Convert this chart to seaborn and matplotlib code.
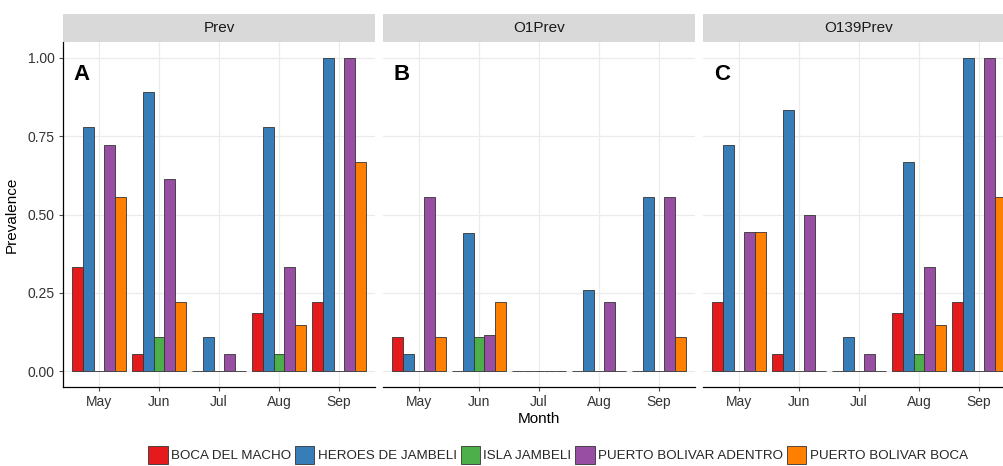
import numpy as np
import pandas as pd
import matplotlib
matplotlib.use("Agg")
import matplotlib.pyplot as plt
import seaborn as sns
from matplotlib.patches import Patch

# ---------------- data ----------------
months = ["May", "Jun", "Jul", "Aug", "Sep"]
sites = ["BOCA DEL MACHO", "HEROES DE JAMBELI", "ISLA JAMBELI",
         "PUERTO BOLIVAR ADENTRO", "PUERTO BOLIVAR BOCA"]
panels = ["Prev", "O1Prev", "O139Prev"]
panel_letters = ["A", "B", "C"]
colors = ["#E41A1C", "#377EB8", "#4DAF4A", "#984EA3", "#FF7F00"]

# values per site, ordered by month (May..Sep)
prev = {
    "BOCA DEL MACHO":         [0.333, 0.056, 0.0,   0.186, 0.222],
    "HEROES DE JAMBELI":      [0.778, 0.889, 0.111, 0.778, 1.0],
    "ISLA JAMBELI":           [0.0,   0.111, 0.0,   0.056, 0.0],
    "PUERTO BOLIVAR ADENTRO": [0.722, 0.614, 0.056, 0.333, 1.0],
    "PUERTO BOLIVAR BOCA":    [0.556, 0.222, 0.0,   0.148, 0.667],
}
o1prev = {
    "BOCA DEL MACHO":         [0.111, 0.0,   0.0, 0.0,   0.0],
    "HEROES DE JAMBELI":      [0.056, 0.441, 0.0, 0.260, 0.556],
    "ISLA JAMBELI":           [0.0,   0.111, 0.0, 0.0,   0.0],
    "PUERTO BOLIVAR ADENTRO": [0.556, 0.116, 0.0, 0.222, 0.556],
    "PUERTO BOLIVAR BOCA":    [0.111, 0.222, 0.0, 0.0,   0.111],
}
o139prev = {
    "BOCA DEL MACHO":         [0.222, 0.056, 0.0,   0.186, 0.222],
    "HEROES DE JAMBELI":      [0.722, 0.833, 0.111, 0.667, 1.0],
    "ISLA JAMBELI":           [0.0,   0.0,   0.0,   0.056, 0.0],
    "PUERTO BOLIVAR ADENTRO": [0.444, 0.5,   0.056, 0.333, 1.0],
    "PUERTO BOLIVAR BOCA":    [0.444, 0.0,   0.0,   0.148, 0.556],
}
panel_data = [prev, o1prev, o139prev]

rows = []
for pname, pdata in zip(panels, panel_data):
    for s in sites:
        for m, v in zip(months, pdata[s]):
            rows.append({"panel": pname, "Site": s, "Month": m, "Prevalence": v})
df = pd.DataFrame(rows)

# ---------------- figure ----------------
sns.set_style("white")
plt.rcParams["font.family"] = ["Liberation Sans", "DejaVu Sans"]

W, H = 1004, 466
fig = plt.figure(figsize=(W / 100, H / 100), dpi=100)

panel_left = [63, 383, 703]
panel_w = 312
panel_top, panel_bot = 42, 387
strip_top = 14

def fx(x): return x / W
def fy(y): return 1 - y / H

txt_col = "#333333"
for i, (pname, letter) in enumerate(zip(panels, panel_letters)):
    x0 = panel_left[i]
    ax = fig.add_axes([fx(x0), fy(panel_bot), panel_w / W, (panel_bot - panel_top) / H])
    sub = df[df["panel"] == pname]
    sns.barplot(data=sub, x="Month", y="Prevalence", hue="Site",
                order=months, hue_order=sites, palette=colors,
                width=0.9, saturation=1, edgecolor="#333333", linewidth=0.6,
                legend=False, ax=ax, errorbar=None)
    ax.set_xlim(-0.6, 4.6)
    ax.set_ylim(-0.05, 1.05)
    ax.set_yticks([0, 0.25, 0.5, 0.75, 1.0])
    ax.set_axisbelow(True)
    ax.grid(True, color="#EBEBEB", linewidth=0.9)
    for sp in ["top", "right"]:
        ax.spines[sp].set_visible(False)
    ax.spines["bottom"].set_color("black")
    ax.spines["bottom"].set_linewidth(0.9)
    ax.tick_params(axis="x", length=3, color="#4D4D4D", width=0.8,
                   labelsize=10, labelcolor=txt_col, pad=3, bottom=True)
    if i == 0:
        ax.spines["left"].set_color("black")
        ax.spines["left"].set_linewidth(0.9)
        ax.yaxis.set_major_formatter(matplotlib.ticker.FormatStrFormatter("%.2f"))
        ax.tick_params(axis="y", length=3, color="#4D4D4D", width=0.8,
                       labelsize=10, labelcolor=txt_col, pad=3, left=True)
        ax.set_ylabel("Prevalence", fontsize=11, color="black", labelpad=6)
    else:
        ax.spines["left"].set_visible(False)
        ax.tick_params(axis="y", left=False, labelleft=False)
        ax.set_ylabel("")
    if i == 1:
        ax.set_xlabel("Month", fontsize=11, color="black", labelpad=2)
    else:
        ax.set_xlabel("")
    ax.text(0.06, 0.905, letter, transform=ax.transAxes, fontsize=16,
            fontweight="bold", ha="center", va="center", color="black")

    # strip
    sax = fig.add_axes([fx(x0), fy(panel_top), panel_w / W, (panel_top - strip_top) / H])
    sax.set_facecolor("#D9D9D9")
    sax.set_xticks([]); sax.set_yticks([])
    for sp in sax.spines.values():
        sp.set_visible(False)
    sax.text(0.5, 0.5, pname, transform=sax.transAxes, ha="center", va="center",
             fontsize=11, color="#1A1A1A")

handles = [Patch(facecolor=c, edgecolor="#333333", linewidth=0.6) for c in colors]
fig.legend(handles, sites, ncol=5, loc="center",
           bbox_to_anchor=(fx(558), fy(455)), fontsize=9.6, frameon=False,
           handlelength=1.45, handleheight=1.6, handletextpad=0.25,
           columnspacing=0.3, borderaxespad=0)

fig.savefig("out.png", dpi=100)
